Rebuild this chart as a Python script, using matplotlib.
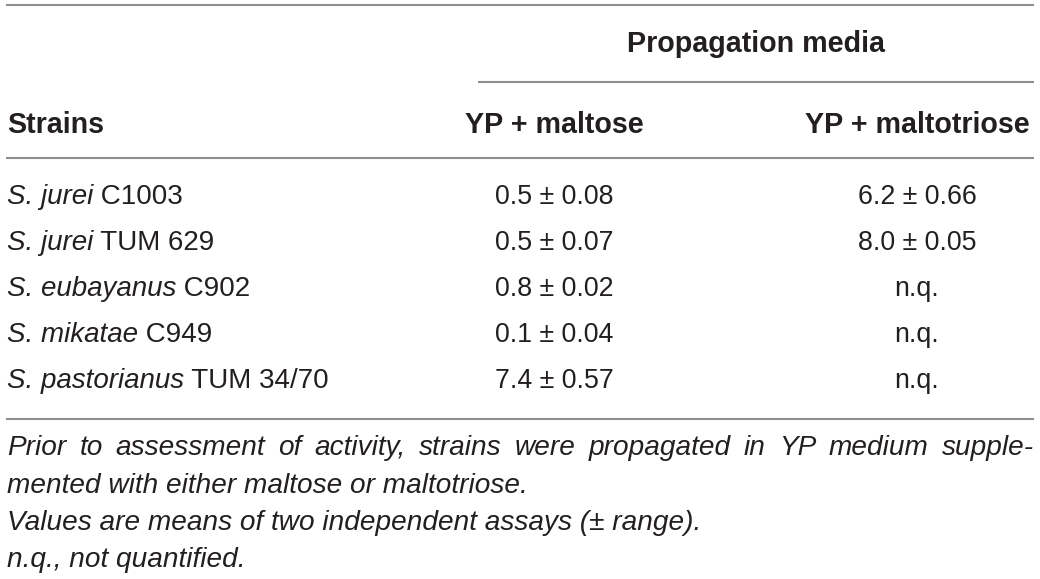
import matplotlib
matplotlib.use("Agg")
import matplotlib.pyplot as plt

# ---- data ----
species = ["S. jurei", "S. jurei", "S. eubayanus", "S. mikatae", "S. pastorianus"]
strain_ids = ["C1003", "TUM 629", "C902", "C949", "TUM 34/70"]
maltose_mean = [0.5, 0.5, 0.8, 0.1, 7.4]
maltose_range = [0.08, 0.07, 0.02, 0.04, 0.57]
maltotriose_mean = [6.2, 8.0, None, None, None]
maltotriose_range = [0.66, 0.05, None, None, None]
col_headers = ["Strains", "YP + maltose", "YP + maltotriose"]
group_header = "Propagation media"
footnotes = [
    "Prior to assessment of activity, strains were propagated in YP medium supple-",
    "mented with either maltose or maltotriose.",
    "Values are means of two independent assays (\u00b1 range).",
    "n.q., not quantified.",
]

def fmt(m, r):
    return "n.q." if m is None else f"{m:.1f} \u00b1 {r:.2f}"

W, H = 1040, 579
fig = plt.figure(figsize=(W / 100, H / 100), dpi=100)
ax = fig.add_axes([0, 0, 1, 1])
ax.set_xlim(0, W)
ax.set_ylim(H, 0)
ax.axis("off")

TXT = "#231f20"
LINE = "#8e8e8e"
FAM = "Liberation Sans"
FS_LAB = 20.0
FS_DAT = 19.3
FS_NOTE = 20.2
FSB = 20.6
lw = 1.5

# rules
ax.plot([6, 1034], [5, 5], color=LINE, lw=lw, solid_capstyle="butt")
ax.plot([478, 1034], [82, 82], color=LINE, lw=lw, solid_capstyle="butt")
ax.plot([6, 1034], [158, 158], color=LINE, lw=lw, solid_capstyle="butt")
ax.plot([6, 1034], [419, 419], color=LINE, lw=lw, solid_capstyle="butt")

# headers
ax.text(756, 52, group_header, ha="center", va="baseline", fontsize=FSB,
        fontweight="bold", family=FAM, color=TXT)
col_x = [7, 554, 917]
ax.text(col_x[0], 133, col_headers[0], ha="left", va="baseline", fontsize=FSB,
        fontweight="bold", family=FAM, color=TXT)
for x, h in zip(col_x[1:], col_headers[1:]):
    ax.text(x, 133, h, ha="center", va="baseline", fontsize=FSB,
            fontweight="bold", family=FAM, color=TXT)

# rows
y0, dy = 204, 46
for i in range(len(species)):
    y = y0 + i * dy
    t1 = ax.text(col_x[0], y, species[i], ha="left", va="baseline", fontsize=FS_LAB,
                 style="italic", family=FAM, color=TXT)
    ax.annotate(" " + strain_ids[i], xy=(1, 0), xycoords=t1, ha="left", va="bottom",
                fontsize=FS_LAB, family=FAM, color=TXT)
    ax.text(col_x[1], y, fmt(maltose_mean[i], maltose_range[i]), ha="center",
            va="baseline", fontsize=FS_DAT, family=FAM, color=TXT)
    ax.text(col_x[2], y, fmt(maltotriose_mean[i], maltotriose_range[i]), ha="center",
            va="baseline", fontsize=FS_DAT, family=FAM, color=TXT)

# footnotes
fy = [455, 493, 530, 567]
renderer = fig.canvas.get_renderer()
# first line justified
words = footnotes[0].split(" ")
left, right = 7, 1034
tmp = []
widths = []
for w in words:
    t = ax.text(0, fy[0], w, ha="left", va="baseline", fontsize=FS_NOTE, style="italic",
                family=FAM, color=TXT)
    bb = t.get_window_extent(renderer)
    widths.append(bb.width)
    tmp.append(t)
gap = (right - left - sum(widths)) / (len(words) - 1)
x = left
for t, wdt in zip(tmp, widths):
    t.set_x(x)
    x += wdt + gap
for line, y in zip(footnotes[1:], fy[1:]):
    ax.text(7, y, line, ha="left", va="baseline", fontsize=FS_NOTE, style="italic",
            family=FAM, color=TXT)

fig.savefig("out.png", dpi=100)
